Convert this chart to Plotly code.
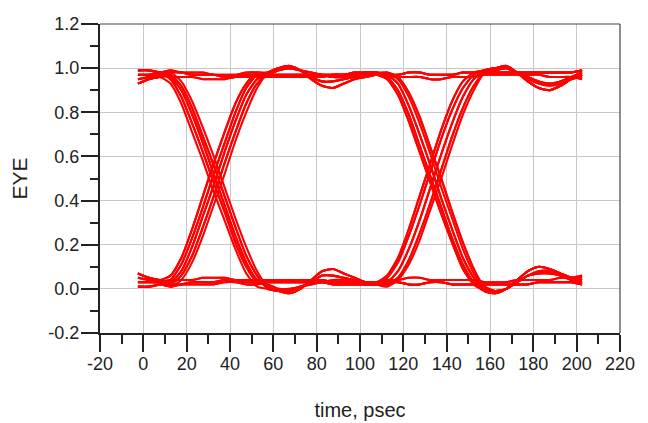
import plotly.graph_objects as go

# Sample times (psec) shared by all eye traces
time_ps = [-2.5, 2.5, 7.5, 12.5, 17.5, 22.5, 27.5, 32.5, 37.5, 42.5, 47.5, 52.5,
           57.5, 62.5, 67.5, 72.5, 77.5, 82.5, 87.5, 92.5, 97.5, 102.5, 107.5,
           112.5, 117.5, 122.5, 127.5, 132.5, 137.5, 142.5, 147.5, 152.5,
           157.5, 162.5, 167.5, 172.5, 177.5, 182.5, 187.5, 192.5, 197.5, 202.5]

# ---- Segment pieces (EYE values) ----
# start: t = -2.5 .. 7.5
START_HI_A = [0.93, 0.95, 0.96]
START_HI_B = [0.97, 0.97, 0.98]
START_HI_C = [0.99, 0.99, 0.98]
START_HI_D = [0.95, 0.96, 0.97]
START_LO_A = [0.07, 0.05, 0.04]
START_LO_B = [0.03, 0.03, 0.03]
START_LO_C = [0.01, 0.01, 0.02]
START_LO_D = [0.05, 0.04, 0.03]
# first edge region: t = 12.5 .. 52.5
FALL1_E2 = [0.93, 0.84, 0.71, 0.58, 0.44, 0.31, 0.18, 0.07, 0.01]
FALL1_E1 = [0.95, 0.87, 0.75, 0.62, 0.48, 0.35, 0.21, 0.10, 0.03]
FALL1 = [0.96, 0.90, 0.79, 0.66, 0.52, 0.38, 0.24, 0.12, 0.04]
FALL1_L1 = [0.97, 0.92, 0.82, 0.69, 0.56, 0.42, 0.28, 0.15, 0.06]
FALL1_L2 = [0.98, 0.94, 0.85, 0.73, 0.60, 0.46, 0.32, 0.19, 0.08]
RISE1_E2 = [0.06, 0.14, 0.27, 0.42, 0.57, 0.71, 0.84, 0.93, 0.98]
RISE1_E1 = [0.04, 0.11, 0.23, 0.37, 0.52, 0.66, 0.80, 0.91, 0.97]
RISE1 = [0.03, 0.08, 0.19, 0.33, 0.47, 0.62, 0.76, 0.88, 0.95]
RISE1_L1 = [0.02, 0.06, 0.15, 0.28, 0.42, 0.57, 0.71, 0.84, 0.93]
RISE1_L2 = [0.01, 0.04, 0.12, 0.24, 0.38, 0.52, 0.67, 0.80, 0.91]
HOLD_HI1 = [0.98, 0.98, 0.97, 0.97, 0.97, 0.96, 0.96, 0.97, 0.97]
HOLD_HI1B = [0.96, 0.96, 0.96, 0.95, 0.95, 0.95, 0.96, 0.96, 0.96]
HOLD_HI1C = [0.99, 0.98, 0.98, 0.98, 0.97, 0.97, 0.97, 0.98, 0.98]
HOLD_LO1 = [0.02, 0.02, 0.03, 0.03, 0.03, 0.04, 0.04, 0.03, 0.03]
HOLD_LO1B = [0.04, 0.04, 0.04, 0.05, 0.05, 0.05, 0.04, 0.04, 0.04]
HOLD_LO1C = [0.01, 0.02, 0.02, 0.02, 0.02, 0.03, 0.03, 0.02, 0.02]
# middle region: t = 57.5 .. 107.5
RING_HI_A = [0.98, 1.00, 1.01, 0.99, 0.95, 0.92, 0.91, 0.93, 0.95, 0.96, 0.97]
RING_HI_B = [0.97, 0.99, 1.00, 0.99, 0.96, 0.94, 0.94, 0.95, 0.96, 0.97, 0.97]
RING_HI_C = [0.98, 1.00, 1.00, 0.99, 0.98, 0.97, 0.96, 0.96, 0.97, 0.98, 0.98]
RING_LO_A = [0.01, -0.01, -0.02, 0.00, 0.04, 0.08, 0.09, 0.07, 0.05, 0.03, 0.02]
RING_LO_B = [0.00, -0.01, -0.01, 0.01, 0.03, 0.06, 0.06, 0.05, 0.04, 0.03, 0.02]
RING_LO_C = [0.02, 0.00, 0.00, 0.01, 0.02, 0.03, 0.04, 0.04, 0.03, 0.02, 0.02]
MID_HI_FLAT = [0.97, 0.97, 0.97, 0.97, 0.97, 0.97, 0.97, 0.97, 0.98, 0.98, 0.98]
MID_HI_FLAT_B = [0.96, 0.96, 0.96, 0.96, 0.96, 0.96, 0.97, 0.97, 0.97, 0.97, 0.97]
MID_LO_FLAT = [0.03, 0.03, 0.03, 0.03, 0.03, 0.03, 0.02, 0.02, 0.02, 0.02, 0.02]
MID_LO_FLAT_B = [0.04, 0.04, 0.04, 0.04, 0.04, 0.04, 0.03, 0.03, 0.03, 0.03, 0.03]
# second edge region: t = 112.5 .. 152.5
FALL2_E2 = [0.95, 0.88, 0.76, 0.62, 0.48, 0.34, 0.21, 0.09, 0.02]
FALL2_E1 = [0.96, 0.90, 0.79, 0.65, 0.51, 0.37, 0.23, 0.11, 0.03]
FALL2 = [0.97, 0.93, 0.83, 0.70, 0.56, 0.41, 0.27, 0.14, 0.05]
FALL2_L1 = [0.98, 0.95, 0.87, 0.75, 0.61, 0.46, 0.32, 0.18, 0.07]
FALL2_L2 = [0.98, 0.96, 0.89, 0.78, 0.64, 0.50, 0.35, 0.21, 0.09]
RISE2_E2 = [0.06, 0.14, 0.27, 0.42, 0.57, 0.72, 0.85, 0.94, 0.98]
RISE2_E1 = [0.05, 0.12, 0.24, 0.38, 0.53, 0.68, 0.81, 0.91, 0.97]
RISE2 = [0.03, 0.08, 0.18, 0.31, 0.46, 0.61, 0.75, 0.87, 0.95]
RISE2_L1 = [0.02, 0.05, 0.13, 0.25, 0.39, 0.54, 0.69, 0.82, 0.92]
RISE2_L2 = [0.01, 0.04, 0.11, 0.22, 0.36, 0.50, 0.65, 0.79, 0.90]
HOLD_HI2 = [0.97, 0.97, 0.98, 0.98, 0.97, 0.97, 0.97, 0.98, 0.98]
HOLD_HI2B = [0.96, 0.96, 0.96, 0.96, 0.95, 0.95, 0.96, 0.96, 0.96]
HOLD_LO2 = [0.03, 0.03, 0.02, 0.02, 0.03, 0.03, 0.02, 0.02, 0.02]
HOLD_LO2B = [0.04, 0.04, 0.05, 0.05, 0.04, 0.04, 0.04, 0.04, 0.04]
# tail region: t = 157.5 .. 202.5
TAIL_HI_A = [0.99, 1.00, 1.01, 0.98, 0.94, 0.91, 0.90, 0.92, 0.95, 0.97]
TAIL_HI_B = [0.98, 0.99, 1.00, 0.98, 0.96, 0.94, 0.93, 0.94, 0.96, 0.98]
TAIL_HI_C = [0.99, 1.00, 1.00, 0.98, 0.95, 0.93, 0.92, 0.93, 0.95, 0.96]
TAIL_HI_FLAT = [0.98, 0.98, 0.98, 0.98, 0.98, 0.98, 0.98, 0.98, 0.98, 0.99]
TAIL_HI_FLAT_B = [0.97, 0.97, 0.97, 0.97, 0.97, 0.97, 0.96, 0.96, 0.96, 0.95]
TAIL_LO_A = [-0.01, -0.02, 0.00, 0.04, 0.08, 0.10, 0.09, 0.07, 0.05, 0.04]
TAIL_LO_B = [0.00, -0.01, 0.00, 0.03, 0.06, 0.07, 0.07, 0.06, 0.04, 0.03]
TAIL_LO_C = [0.01, -0.01, 0.00, 0.03, 0.06, 0.08, 0.08, 0.06, 0.05, 0.05]
TAIL_LO_FLAT = [0.02, 0.02, 0.02, 0.02, 0.02, 0.03, 0.03, 0.03, 0.03, 0.02]
TAIL_LO_FLAT_B = [0.03, 0.03, 0.03, 0.04, 0.04, 0.04, 0.04, 0.05, 0.05, 0.06]

eye_traces = [
    # 1 -> 0 -> 1
    START_HI_A + FALL1 + RING_LO_A + RISE2 + TAIL_HI_A,
    START_HI_B + FALL1_L1 + RING_LO_B + RISE2_L1 + TAIL_HI_B,
    START_HI_C + FALL1_E1 + RING_LO_C + RISE2_E2 + TAIL_HI_C,
    START_HI_D + FALL1_L2 + RING_LO_A + RISE2_L2 + TAIL_HI_B,
    START_HI_A + FALL1_E2 + RING_LO_B + RISE2_E1 + TAIL_HI_A,
    # 1 -> 0 -> 0
    START_HI_C + FALL1_E1 + RING_LO_C + HOLD_LO2 + TAIL_LO_FLAT,
    START_HI_B + FALL1 + RING_LO_A + HOLD_LO2B + TAIL_LO_FLAT_B,
    START_HI_D + FALL1_L1 + RING_LO_B + HOLD_LO2 + TAIL_LO_FLAT,
    # 1 -> 1 -> 0
    START_HI_A + HOLD_HI1 + MID_HI_FLAT + FALL2 + TAIL_LO_A,
    START_HI_C + HOLD_HI1B + MID_HI_FLAT_B + FALL2_E1 + TAIL_LO_B,
    START_HI_B + HOLD_HI1C + MID_HI_FLAT + FALL2_L2 + TAIL_LO_C,
    START_HI_D + HOLD_HI1 + MID_HI_FLAT_B + FALL2_E2 + TAIL_LO_A,
    # 1 -> 1 -> 1
    START_HI_B + HOLD_HI1B + MID_HI_FLAT_B + HOLD_HI2 + TAIL_HI_FLAT,
    START_HI_C + HOLD_HI1C + MID_HI_FLAT + HOLD_HI2B + TAIL_HI_FLAT_B,
    START_HI_A + HOLD_HI1 + MID_HI_FLAT + HOLD_HI2 + TAIL_HI_FLAT,
    # 0 -> 1 -> 0
    START_LO_A + RISE1 + RING_HI_A + FALL2 + TAIL_LO_A,
    START_LO_B + RISE1_L1 + RING_HI_B + FALL2_L1 + TAIL_LO_B,
    START_LO_C + RISE1_E1 + RING_HI_C + FALL2_E1 + TAIL_LO_C,
    START_LO_D + RISE1_L2 + RING_HI_A + FALL2_L2 + TAIL_LO_A,
    START_LO_A + RISE1_E2 + RING_HI_B + FALL2_E2 + TAIL_LO_B,
    # 0 -> 1 -> 1
    START_LO_C + RISE1_E1 + RING_HI_C + HOLD_HI2 + TAIL_HI_FLAT,
    START_LO_B + RISE1 + RING_HI_B + HOLD_HI2B + TAIL_HI_FLAT_B,
    START_LO_D + RISE1_L1 + RING_HI_A + HOLD_HI2 + TAIL_HI_FLAT,
    START_LO_A + RISE1_E2 + RING_HI_C + HOLD_HI2B + TAIL_HI_FLAT,
    # 0 -> 0 -> 1
    START_LO_A + HOLD_LO1 + MID_LO_FLAT + RISE2_E1 + TAIL_HI_A,
    START_LO_C + HOLD_LO1C + MID_LO_FLAT + RISE2_L1 + TAIL_HI_B,
    START_LO_B + HOLD_LO1B + MID_LO_FLAT_B + RISE2 + TAIL_HI_C,
    START_LO_D + HOLD_LO1 + MID_LO_FLAT_B + RISE2_E2 + TAIL_HI_A,
    # 0 -> 0 -> 0
    START_LO_B + HOLD_LO1B + MID_LO_FLAT_B + HOLD_LO2 + TAIL_LO_FLAT,
    START_LO_C + HOLD_LO1C + MID_LO_FLAT + HOLD_LO2B + TAIL_LO_FLAT_B,
    START_LO_A + HOLD_LO1 + MID_LO_FLAT + HOLD_LO2 + TAIL_LO_FLAT,
]

x_tick_vals = [-20, 0, 20, 40, 60, 80, 100, 120, 140, 160, 180, 200, 220]
y_tick_vals = [-0.2, 0.0, 0.2, 0.4, 0.6, 0.8, 1.0, 1.2]

fig = go.Figure()
for ys in eye_traces:
    fig.add_trace(go.Scatter(x=time_ps, y=ys, mode="lines",
                             line=dict(color="#ff0000", width=2.1, shape="spline", smoothing=0.6),
                             showlegend=False, hoverinfo="skip"))

font_family = "Liberation Sans, Arial, sans-serif"
# The page body adds an 8px offset, so the figure is sized to fit the window.
fig.update_layout(
    width=640, height=415,
    margin=dict(l=92, r=28, t=16, b=90, autoexpand=False),
    paper_bgcolor="white", plot_bgcolor="white",
    font=dict(family=font_family, size=18, color="#222"),
    showlegend=False,
)
fig.update_xaxes(
    range=[-20, 220], tickvals=x_tick_vals, ticktext=[str(v) for v in x_tick_vals],
    showgrid=True, gridcolor="#c8c8c8", gridwidth=1,
    showline=True, linecolor="#222", linewidth=2,
    ticks="outside", ticklen=17, tickwidth=1.5, tickcolor="#222",
    ticklabelstandoff=-4,
    minor=dict(dtick=10, tick0=0, ticks="outside", ticklen=9, tickwidth=1.5, tickcolor="#222", showgrid=False),
    zeroline=False, automargin=False,
    title=dict(text="time, psec", font=dict(size=20, family=font_family, color="#222"), standoff=30),
)
fig.update_yaxes(
    range=[-0.2, 1.2], tickvals=y_tick_vals, ticktext=["%.1f" % v for v in y_tick_vals],
    showgrid=True, gridcolor="#c8c8c8", gridwidth=1,
    showline=True, linecolor="#222", linewidth=2,
    ticks="outside", ticklen=17, tickwidth=1.5, tickcolor="#222",
    ticklabelstandoff=-2,
    minor=dict(dtick=0.1, tick0=0, ticks="outside", ticklen=8, tickwidth=1.5, tickcolor="#222", showgrid=False),
    zeroline=False, automargin=False,
    title=dict(text="EYE", font=dict(size=21, family=font_family, color="#222"), standoff=26),
)
# thin top/right border of the plot box
fig.add_shape(type="line", xref="paper", yref="paper", x0=0, x1=1, y0=1, y1=1,
              line=dict(color="#444", width=1.2))
fig.add_shape(type="line", xref="paper", yref="paper", x0=1, x1=1, y0=0, y1=1,
              line=dict(color="#444", width=1.2))

fig.write_html("out.html")
